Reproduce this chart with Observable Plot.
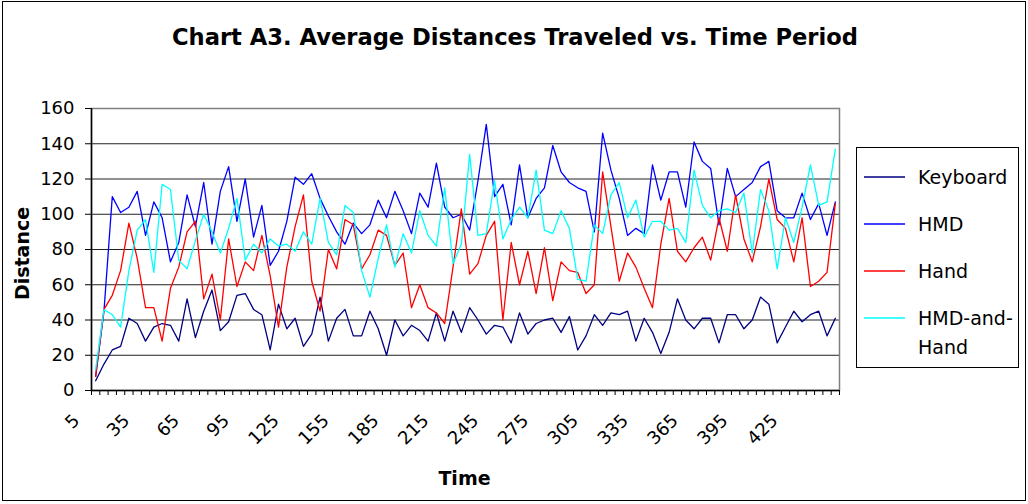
<!DOCTYPE html>
<html><head><meta charset="utf-8">
<script src="https://cdn.jsdelivr.net/npm/d3@7"></script>
<script src="https://cdn.jsdelivr.net/npm/@observablehq/plot@0.6"></script>
<style>
body{margin:0;background:#fff;}
#chart{position:relative;width:1028px;height:504px;}
</style>
</head><body><div id="chart"></div>
<script>
const times = [5,10,15,20,25,30,35,40,45,50,55,60,65,70,75,80,85,90,95,100,
105,110,115,120,125,130,135,140,145,150,155,160,165,170,175,180,185,190,195,200,
205,210,215,220,225,230,235,240,245,250,255,260,265,270,275,280,285,290,295,300,
305,310,315,320,325,330,335,340,345,350,355,360,365,370,375,380,385,390,395,400,
405,410,415,420,425,430,435,440,445,450];
const xTickLabels = [5,35,65,95,125,155,185,215,245,275,305,335,365,395,425];
const yTicks = [0,20,40,60,80,100,120,140,160];
const seriesNames = ["Keyboard","HMD","Hand","HMD-and-Hand"];
const seriesColors = ["#000080","#0000FF","#FF0000","#00FFFF"];

const keyboard = [5.5,15,23,25,41,38,28,36,38,37,28,52,30,45,57,34,39,54,55,46,
43,23,49,35,41,25,32,53,28,41,46,31,31,45,35,20,40,31,37,34,
28,44,28,45,33,47,40,32,37,36,27,44,32,38,40,41,33,42,23,31,
43,37,44,43,45,28,41,33,21,33,52,40,35,41,41,27,43,43,35,40,
53,49,27,36,45,39,43,45,31,41];
const hmd = [8,45,110,101,104,113,88,107,98,73,84,111,93,118,83,113,127,96,120,87,
105,71,79,96,121,117,123,109,99,90,83,95,89,94,108,98,113,102,89,112,
104,129,104,98,100,91,119,151,110,117,94,128,98,109,115,139,124,118,115,113,
90,146,125,109,88,92,89,128,108,124,124,104,141,130,126,94,126,110,114,118,
127,130,102,98,98,112,97,106,88,107];
const hand = [8,46,54,68,95,75,47,47,28,58,70,90,96,52,66,40,86,59,73,68,
88,65,36,70,93,111,62,45,80,69,97,94,69,77,91,88,71,78,47,60,
47,44,38,70,103,66,72,88,96,40,84,60,79,55,81,51,73,68,67,55,
60,124,93,62,78,70,58,47,83,109,79,73,81,87,74,98,79,111,86,73,
93,120,97,92,73,98,59,62,67,106];
const hmdHand = [12,46,43,36,68,91,97,67,117,114,74,69,85,100,90,78,92,109,74,83,
78,86,82,83,79,90,83,109,84,77,105,101,68,53,75,94,70,89,78,102,
88,82,115,72,83,134,88,89,119,86,97,104,98,125,91,89,102,92,63,62,
94,89,111,118,98,108,87,96,96,91,92,84,125,105,98,102,103,101,112,78,
114,102,69,98,84,104,128,105,107,137];

const seriesValues = [keyboard, hmd, hand, hmdHand];
const data = [];
seriesNames.forEach((s, k) => times.forEach((t, i) => data.push({series: s, time: t, value: seriesValues[k][i]})));
const boundaries = times.map(t => t - 2.5).concat([times[times.length-1] + 2.5]);

const FONT = "DejaVu Sans";
const chart = Plot.plot({
  width: 1028, height: 504,
  marginLeft: 91, marginRight: 189, marginTop: 108, marginBottom: 114,
  style: {fontFamily: FONT, fontSize: "18px", color: "#000", background: "transparent", overflow: "visible"},
  x: {domain: [2.5, 452.5]},
  y: {domain: [0, 160]},
  color: {domain: seriesNames, range: seriesColors},
  marks: [
    Plot.gridY(yTicks.filter(d => d > 0 && d < 160), {stroke: "#222", strokeOpacity: 1, strokeWidth: 1}),
    Plot.frame({stroke: "#808080", strokeWidth: 1.5}),
    Plot.axisY(yTicks, {tickSize: 6, tickPadding: 11, label: null, fontSize: 18, stroke: "#000"}),
    Plot.axisX(boundaries, {tickSize: 5, tickFormat: () => "", label: null, stroke: "#000"}),
    Plot.text(xTickLabels, {x: d => d, text: d => String(d), frameAnchor: "bottom", dy: 22, dx: -24,
      rotate: -45, textAnchor: "end", lineAnchor: "top", fontSize: 18}),
    Plot.ruleY([0], {stroke: "#000", strokeWidth: 1.5}),
    Plot.ruleX([2.5], {stroke: "#000", strokeWidth: 1.5}),
    Plot.line(data, {x: "time", y: "value", z: "series", stroke: "series", strokeWidth: 1.3})
  ]
});
document.getElementById("chart").appendChild(chart);

const svg = d3.select(chart);
// outer border
svg.append("rect").attr("x", 2.5).attr("y", 1.5).attr("width", 1023).attr("height", 499)
  .attr("fill", "none").attr("stroke", "#000").attr("stroke-width", 1);
// title
svg.append("text").attr("x", 515).attr("y", 45).attr("text-anchor", "middle")
  .attr("font-family", FONT).attr("font-weight", "bold").attr("font-size", 23)
  .attr("textLength", 686).attr("lengthAdjust", "spacingAndGlyphs")
  .text("Chart A3. Average Distances Traveled vs. Time Period");
// axis titles
svg.append("text").attr("transform", "translate(29,253.5) rotate(-90)").attr("text-anchor", "middle")
  .attr("font-family", FONT).attr("font-weight", "bold").attr("font-size", 19)
  .text("Distance");
svg.append("text").attr("x", 464.5).attr("y", 485).attr("text-anchor", "middle")
  .attr("font-family", FONT).attr("font-weight", "bold").attr("font-size", 19)
  .text("Time");
// legend
const lg = svg.append("g");
lg.append("rect").attr("x", 856.5).attr("y", 147.5).attr("width", 162).attr("height", 220)
  .attr("fill", "none").attr("stroke", "#000").attr("stroke-width", 1);
const legendRows = [
  {name: "Keyboard", lines: ["Keyboard"], y: 177},
  {name: "HMD", lines: ["HMD"], y: 224},
  {name: "Hand", lines: ["Hand"], y: 271},
  {name: "HMD-and-Hand", lines: ["HMD-and-", "Hand"], y: 318}
];
legendRows.forEach(r => {
  const c = seriesColors[seriesNames.indexOf(r.name)];
  lg.append("line").attr("x1", 864).attr("x2", 905).attr("y1", r.y).attr("y2", r.y)
    .attr("stroke", c).attr("stroke-width", 1.5);
  r.lines.forEach((ln, j) => {
    lg.append("text").attr("x", 918).attr("y", r.y + j * 29).attr("dy", "0.35em")
      .attr("text-anchor", "start")
      .attr("font-family", FONT).attr("font-size", 19).text(ln);
  });
});
</script>
</body></html>
